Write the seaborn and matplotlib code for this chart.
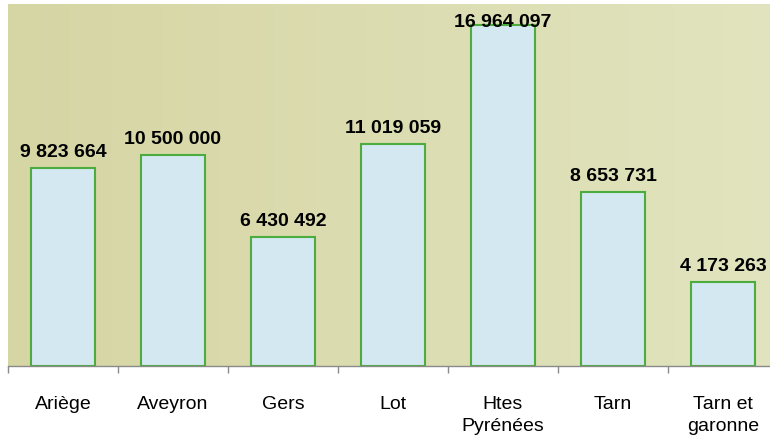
"""Bar chart of amounts per département (Midi-Pyrénées)."""

import numpy as np
import pandas as pd
import matplotlib
matplotlib.use("Agg")
import matplotlib.pyplot as plt
from matplotlib.colors import to_rgb
from matplotlib.ticker import FixedLocator
import seaborn as sns

departements = ["Ariège", "Aveyron", "Gers", "Lot", "Htes\nPyrénées", "Tarn", "Tarn et\ngaronne"]
montants = [9823664, 10500000, 6430492, 11019059, 16964097, 8653731, 4173263]
etiquettes = ["9 823 664", "10 500 000", "6 430 492", "11 019 059", "16 964 097", "8 653 731", "4 173 263"]

df = pd.DataFrame({"dept": departements, "montant": montants})

sns.set_theme(style="white")
plt.rcParams["font.family"] = ["Liberation Sans", "DejaVu Sans"]

fig = plt.figure(figsize=(7.7, 4.39), dpi=100, facecolor="white")
ax = fig.add_axes([8 / 770, 72 / 439, 770 / 770, 362 / 439])

# textured khaki background, a bit lighter towards the right
left = np.array(to_rgb("#d6d5a4"))
right = np.array(to_rgb("#e1e4be"))
t = np.linspace(0, 1, 200)
grad = left[None, :] * (1 - t[:, None]) + right[None, :] * t[:, None]
grad = np.repeat(grad[None, :, :], 50, axis=0)
ax.imshow(grad, extent=[0, 1, 0, 1], transform=ax.transAxes, aspect="auto", zorder=0)

sns.barplot(
    data=df, x="dept", y="montant", ax=ax,
    color="#d3e8f1", edgecolor="#4cad3e", linewidth=1.5,
    width=0.59, saturation=1, zorder=2,
)

ymax = 18.0e6
ax.set_ylim(0, ymax)
ax.set_xlim(-0.5, 6.5)

for i, (v, lab) in enumerate(zip(montants, etiquettes)):
    y = min(v + 0.6e6, ymax - 1.1e6)
    ax.text(i, y, lab, ha="center", va="baseline", fontsize=14,
            fontweight="bold", color="black", zorder=3)

ax.set_xlabel("")
ax.set_ylabel("")
ax.set_yticks([])
for s in ["top", "right", "left"]:
    ax.spines[s].set_visible(False)
ax.spines["bottom"].set_color("#8a8a8a")
ax.spines["bottom"].set_linewidth(1.0)

ax.xaxis.set_minor_locator(FixedLocator(np.arange(-0.5, 7, 1.0)))
ax.tick_params(axis="x", which="major", length=0, pad=21, labelsize=14, labelcolor="black")
ax.tick_params(axis="x", which="minor", bottom=True, length=5, width=1, color="#8a8a8a", direction="out")
for lbl in ax.get_xticklabels():
    lbl.set_linespacing(1.4)
    lbl.set_verticalalignment("top")

fig.savefig("out.png", dpi=100, facecolor="white")
